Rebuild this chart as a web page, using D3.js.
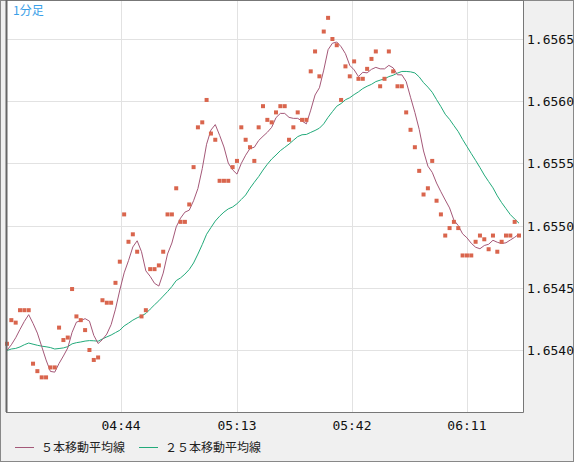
<!DOCTYPE html>
<html><head><meta charset="utf-8">
<script src="https://cdn.jsdelivr.net/npm/d3@7"></script>
<style>body{margin:0;background:#f0f0f0}svg{display:block}</style>
</head><body><svg id="c" width="574" height="462"></svg>
<script>
const history = [1.65395,1.65410,1.65402,1.65388,1.65398,1.65412,1.65405,1.65396,1.65390,1.65402,1.65415,1.65408,1.65396,1.65385,1.65392,1.65404,1.65410,1.65398,1.65390,1.65396,1.65402,1.65394,1.65398,1.65400];
const closes = [1.65405,1.65424,1.65422,1.65432,1.65432,1.65432,1.65389,1.65383,1.65378,1.65378,
1.65386,1.65386,1.65418,1.65408,1.65410,1.65449,1.65427,1.65424,1.65416,1.65400,
1.65392,1.65394,1.65440,1.65438,1.65438,1.65454,1.65471,1.65509,1.65487,1.65493,
1.65479,1.65427,1.65432,1.65465,1.65465,1.65468,1.65479,1.65509,1.65509,1.65530,
1.65503,1.65503,1.65517,1.65547,1.65579,1.65583,1.65601,1.65574,1.65569,1.65536,
1.65536,1.65536,1.65547,1.65552,1.65579,1.65569,1.65563,1.65552,1.65579,1.65596,
1.65585,1.65583,1.65591,1.65596,1.65596,1.65569,1.65579,1.65591,1.65585,1.65585,
1.65624,1.65640,1.65620,1.65656,1.65667,1.65650,1.65645,1.65601,1.65628,1.65620,
1.65632,1.65618,1.65618,1.65626,1.65634,1.65640,1.65612,1.65618,1.65640,1.65624,
1.65612,1.65612,1.65591,1.65577,1.65563,1.65544,1.65525,1.65530,1.65552,1.65520,
1.65509,1.65492,1.65498,1.65503,1.65498,1.65476,1.65476,1.65476,1.65487,1.65492,
1.65489,1.65481,1.65492,1.65479,1.65487,1.65492,1.65492,1.65503,1.65492];
const yTicks = [1.6540,1.6545,1.6550,1.6555,1.6560,1.6565];
const timeLabels = ["04:44","05:13","05:42","06:11"];
const timeIndex = [26.3,53.0,79.5,106.0];
const legendNames = ["５本移動平均線","２５本移動平均線"];

const all = history.concat(closes);
function ma(n){return closes.map((d,i)=>{const j=i+history.length;return d3.mean(all.slice(j-n+1,j+1));});}
const ma5 = ma(5), ma25 = ma(25);

const svg = d3.select("#c");
const L=6,R=523,T=0,B=412;
svg.append("rect").attr("x",0.5).attr("y",0.5).attr("width",573).attr("height",461).attr("fill","#f0f0f0").attr("stroke","#888");
svg.append("rect").attr("x",L).attr("y",T).attr("width",R-L).attr("height",B-T).attr("fill","#fff");
const x = d3.scaleLinear().domain([0,closes.length-1]).range([7,519]);
const y = d3.scaleLinear().domain([1.6540,1.6565]).range([350,39]);
const mono = "DejaVu Sans Mono, monospace";
svg.append("g").selectAll("line").data(yTicks).join("line")
 .attr("x1",L).attr("x2",R).attr("y1",d=>Math.round(y(d))+0.5).attr("y2",d=>Math.round(y(d))+0.5).attr("stroke","#e2e2e2");
svg.append("g").selectAll("line").data(timeIndex).join("line")
 .attr("y1",T).attr("y2",B).attr("x1",d=>Math.round(x(d))+0.5).attr("x2",d=>Math.round(x(d))+0.5).attr("stroke","#e2e2e2");
const line = d3.line().x((d,i)=>x(i)).y(d=>y(d));
svg.append("path").datum(ma25).attr("d",line).attr("fill","none").attr("stroke","#22aa7a").attr("stroke-width",1);
svg.append("path").datum(ma5).attr("d",line).attr("fill","none").attr("stroke","#a45878").attr("stroke-width",1);
svg.append("g").selectAll("rect").data(closes).join("rect")
 .attr("x",(d,i)=>x(i)-2).attr("y",d=>y(d)-2).attr("width",4).attr("height",4).attr("fill","#d9654d");
svg.append("path").attr("d",`M${L+0.5},${B}V${T+0.5}H${R+0.5}V${B+0.5}H${L}`).attr("fill","none").attr("stroke","#777");
svg.append("line").attr("x1",L+0.5).attr("x2",L+0.5).attr("y1",T).attr("y2",B).attr("stroke","#666").attr("stroke-width",2);
svg.append("g").selectAll("text").data(yTicks).join("text")
 .attr("x",527).attr("y",d=>y(d)+5).attr("font-family",mono).attr("font-size",13).attr("fill","#111").text(d=>d.toFixed(4));
svg.append("g").selectAll("text").data(timeIndex).join("text")
 .attr("x",d=>x(d)).attr("y",430).attr("text-anchor","middle").attr("font-family",mono).attr("font-size",13).attr("fill","#111").text((d,i)=>timeLabels[i]);
svg.append("text").attr("x",13).attr("y",15).attr("font-family","Noto Sans CJK JP").attr("font-size",12).attr("fill","#3aa0e8").text("1分足");
const lg = [{c:"#a45878",x:15},{c:"#22aa7a",x:139}];
lg.forEach((o,i)=>{
 svg.append("line").attr("x1",o.x).attr("x2",o.x+19).attr("y1",447.5).attr("y2",447.5).attr("stroke",o.c);
 svg.append("text").attr("x",o.x+26).attr("y",452).attr("font-family","Noto Sans CJK JP").attr("font-size",12).attr("fill","#222").text(legendNames[i]);
});
</script></body></html>
